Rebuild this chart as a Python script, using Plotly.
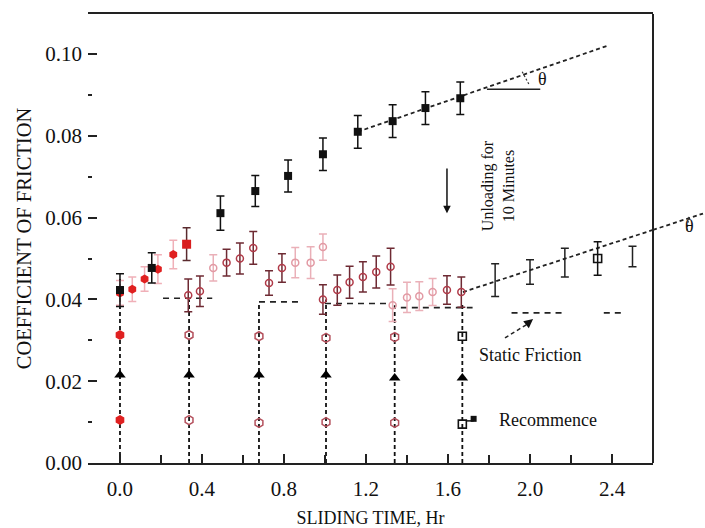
import plotly.graph_objects as go

FONT = "Liberation Serif, Times New Roman, serif"

# ---------------- data ----------------
X_RANGE = [-0.156, 2.6]
Y_RANGE = [0.0, 0.1098]

x_ticks = [0.0, 0.4, 0.8, 1.2, 1.6, 2.0, 2.4]
x_tick_labels = ["0.0", "0.4", "0.8", "1.2", "1.6", "2.0", "2.4"]
x_minor = [0.2, 0.6, 1.0, 1.4, 1.8, 2.2, 2.6]
y_ticks = [0.0, 0.02, 0.04, 0.06, 0.08, 0.10]
y_tick_labels = ["0.00", "0.02", "0.04", "0.06", "0.08", "0.10"]
y_minor = [0.01, 0.03, 0.05, 0.07, 0.09]

# first run, black filled squares
run1_x = [0.0, 0.155, 0.49, 0.66, 0.82, 0.99, 1.16, 1.33, 1.49, 1.66]
run1_y = [0.0423, 0.0477, 0.0611, 0.0665, 0.0702, 0.0755, 0.0810, 0.0836, 0.0868, 0.0892]
run1_err = [0.0040, 0.0037, 0.0042, 0.0038, 0.0039, 0.0040, 0.0040, 0.0040, 0.0040, 0.0040]

# red filled points at start
red_x = [0.0, 0.06, 0.12, 0.185, 0.26]
red_y = [0.0416, 0.0425, 0.0450, 0.0474, 0.0510]
red_err = [0.0030, 0.0030, 0.0030, 0.0035, 0.0035]
red_sq_x = [0.325]
red_sq_y = [0.0535]
red_sq_err = [0.0040]

# hollow points (dark)
hd_x = [0.333, 0.39, 0.52, 0.585, 0.65, 0.727, 0.79, 0.99, 1.06, 1.12, 1.185, 1.25, 1.32, 1.595, 1.665]
hd_y = [0.0410, 0.0420, 0.0490, 0.0500, 0.0526, 0.0440, 0.0477, 0.0400, 0.0423, 0.0442, 0.0455, 0.0467, 0.0480, 0.0423, 0.0418]
hd_err = [0.0040, 0.0037, 0.0033, 0.0038, 0.0040, 0.0030, 0.0035, 0.0036, 0.0037, 0.0039, 0.0037, 0.0039, 0.0045, 0.0035, 0.0037]
# hollow points (faint)
hf_x = [0.455, 0.855, 0.93, 0.99, 1.33, 1.40, 1.46, 1.525]
hf_y = [0.0477, 0.0490, 0.0490, 0.0528, 0.0386, 0.0405, 0.0408, 0.0418]
hf_err = [0.0032, 0.0037, 0.0039, 0.0032, 0.0040, 0.0037, 0.0035, 0.0033]

# column markers on the vertical dashed lines
vline_x = [0.0, 0.337, 0.678, 1.005, 1.34, 1.67]
vline_top = [0.045, 0.040, 0.039, 0.040, 0.0386, 0.039]
tri_y = [0.0215, 0.0215, 0.0215, 0.0215, 0.0208, 0.0208]
col_red_x = [0.0, 0.0]
col_red_y = [0.0313, 0.0105]
col_hollow_x = [0.337, 0.678, 1.005, 1.34, 0.337, 0.678, 1.005, 1.34]
col_hollow_y = [0.0313, 0.0310, 0.0306, 0.0308, 0.0105, 0.0098, 0.0100, 0.0098]
col_open_sq_x = [1.67, 1.67]
col_open_sq_y = [0.0310, 0.0095]

# second run (after recommencing)
run2_x = [1.83, 2.0, 2.17, 2.50]
run2_y = [0.0447, 0.0467, 0.0490, 0.0505]
run2_err = [0.0040, 0.0030, 0.0035, 0.0025]
run2_sq_x = [2.33]
run2_sq_y = [0.0500]
run2_sq_err = [0.0041]

# static friction dashed segments
sf_x0 = [0.21, 0.678, 1.00, 1.37, 1.91, 2.36]
sf_x1 = [0.45, 0.87, 1.32, 1.72, 2.16, 2.45]
sf_y = [0.0403, 0.0394, 0.0390, 0.0380, 0.0367, 0.0367]

# trend lines
fit1_x = [1.16, 2.376]
fit1_y = [0.0810, 0.1020]
fit2_x = [1.673, 2.60]
fit2_y = [0.0418, 0.0570]
fit2_ext_x = [2.60, 2.844]
fit2_ext_y = [0.0570, 0.0610]

DASH = "4px,3px"

fig = go.Figure()

# vertical dashed lines
vx, vy = [], []
for x, top in zip(vline_x, vline_top):
    vx += [x, x, None]
    vy += [0.0, top, None]
fig.add_trace(go.Scatter(x=vx, y=vy, mode="lines",
                         line=dict(color="#111", width=1.8, dash=DASH), hoverinfo="skip"))

# static friction lines
sx, sy = [], []
for a, b, y in zip(sf_x0, sf_x1, sf_y):
    sx += [a, b, None]
    sy += [y, y, None]
fig.add_trace(go.Scatter(x=sx, y=sy, mode="lines",
                         line=dict(color="#222", width=1.6, dash="6px,5px"), hoverinfo="skip"))

# trend lines
fig.add_trace(go.Scatter(x=fit1_x, y=fit1_y, mode="lines",
                         line=dict(color="#222", width=1.8, dash=DASH), hoverinfo="skip"))
fig.add_trace(go.Scatter(x=fit2_x, y=fit2_y, mode="lines",
                         line=dict(color="#222", width=1.8, dash=DASH), hoverinfo="skip"))

# faint hollow
fig.add_trace(go.Scatter(x=hf_x, y=hf_y, mode="markers",
                         marker=dict(symbol="circle-open", size=7, color="#e29aa4", line=dict(width=1.5)),
                         error_y=dict(type="data", array=hf_err, color="#eab0b8", thickness=1.5, width=4)))
# dark hollow
fig.add_trace(go.Scatter(x=hd_x, y=hd_y, mode="markers",
                         marker=dict(symbol="circle-open", size=7, color="#b03a48", line=dict(width=1.5)),
                         error_y=dict(type="data", array=hd_err, color="#6e2a33", thickness=1.5, width=4)))

# red early points
fig.add_trace(go.Scatter(x=red_x, y=red_y, mode="markers",
                         marker=dict(symbol="hexagon", size=9, color="#e02020"),
                         error_y=dict(type="data", array=red_err, color="#f0b0b8", thickness=1.5, width=4)))
fig.add_trace(go.Scatter(x=red_sq_x, y=red_sq_y, mode="markers",
                         marker=dict(symbol="square", size=9, color="#d81e1e"),
                         error_y=dict(type="data", array=red_sq_err, color="#5a2a2e", thickness=1.5, width=4)))

# black squares first run
fig.add_trace(go.Scatter(x=run1_x, y=run1_y, mode="markers",
                         marker=dict(symbol="square", size=8, color="#111"),
                         error_y=dict(type="data", array=run1_err, color="#111", thickness=1.5, width=4)))

# second run
fig.add_trace(go.Scatter(x=run2_x, y=run2_y, mode="markers",
                         marker=dict(symbol="square", size=2, color="rgba(0,0,0,0)"),
                         error_y=dict(type="data", array=run2_err, color="#222", thickness=1.5, width=4)))
fig.add_trace(go.Scatter(x=run2_sq_x, y=run2_sq_y, mode="markers",
                         marker=dict(symbol="square-open", size=8, color="#111", line=dict(width=1.6)),
                         error_y=dict(type="data", array=run2_sq_err, color="#111", thickness=1.5, width=4)))

# column markers
fig.add_trace(go.Scatter(x=vline_x, y=tri_y, mode="markers",
                         marker=dict(symbol="triangle-up", size=10, color="#000")))
fig.add_trace(go.Scatter(x=col_red_x, y=col_red_y, mode="markers",
                         marker=dict(symbol="hexagon", size=10, color="#e02020")))
fig.add_trace(go.Scatter(x=col_hollow_x, y=col_hollow_y, mode="markers",
                         marker=dict(symbol="hexagon-open", size=9, color="#b4505c", line=dict(width=1.5))))
fig.add_trace(go.Scatter(x=col_open_sq_x, y=col_open_sq_y, mode="markers",
                         marker=dict(symbol="square-open", size=8, color="#111", line=dict(width=1.6))))

# helper for paper coords
def px(x):
    return (x - X_RANGE[0]) / (X_RANGE[1] - X_RANGE[0])

def py(y):
    return (y - Y_RANGE[0]) / (Y_RANGE[1] - Y_RANGE[0])

shapes = [
    # right border
    dict(type="line", xref="paper", yref="paper", x0=1, x1=1, y0=0, y1=1,
         line=dict(color="#222", width=2)),
    # extension of second trend line outside the frame
    dict(type="line", xref="paper", yref="paper",
         x0=px(fit2_ext_x[0]), y0=py(fit2_ext_y[0]), x1=px(fit2_ext_x[1]), y1=py(fit2_ext_y[1]),
         line=dict(color="#222", width=1.8, dash=DASH)),
    # theta reference line (first)
    dict(type="line", xref="x", yref="y", x0=1.79, x1=2.05, y0=0.0914, y1=0.0914,
         line=dict(color="#222", width=1.5)),
    # theta arcs
    dict(type="line", xref="x", yref="y", x0=1.962, x1=1.995, y0=0.0957, y1=0.0926,
         line=dict(color="#333", width=1.2, dash="2px,2px")),
    dict(type="line", xref="paper", yref="paper", x0=px(2.775), x1=px(2.765), y0=py(0.0602), y1=py(0.0567),
         line=dict(color="#333", width=1.2, dash="2px,2px")),
    # static friction arrow tail (dashed)
    dict(type="line", xref="x", yref="y", x0=1.878, y0=0.0306, x1=1.985, y1=0.0339,
         line=dict(color="#222", width=1.5, dash="4px,3px")),
    # recommence pointer
    dict(type="line", xref="x", yref="y", x0=1.69, y0=0.0103, x1=1.725, y1=0.0103,
         line=dict(color="#111", width=1.5)),
]

annotations = [
    dict(x=1.844, y=0.0677, xref="x", yref="y", text="Unloading for<br>10 Minutes",
         textangle=-90, showarrow=False, font=dict(size=16, family=FONT, color="#111")),
    dict(x=2.0, y=0.0264, xref="x", yref="y", text="Static Friction",
         showarrow=False, font=dict(size=18, family=FONT, color="#111")),
    dict(x=2.088, y=0.0105, xref="x", yref="y", text="Recommence",
         showarrow=False, font=dict(size=18, family=FONT, color="#111")),
    dict(x=2.063, y=0.0938, xref="x", yref="y", text="θ",
         showarrow=False, font=dict(size=18, family=FONT, color="#111")),
    dict(x=px(2.812), y=py(0.0580), xref="paper", yref="paper", text="θ",
         showarrow=False, font=dict(size=18, family=FONT, color="#111")),
    # unloading arrow
    dict(x=1.595, y=0.0611, ax=1.595, ay=0.0724, xref="x", yref="y", axref="x", ayref="y",
         text="", showarrow=True, arrowhead=2, arrowsize=1, arrowwidth=1.5, arrowcolor="#111"),
    # static friction arrow head
    dict(x=2.015, y=0.0352, ax=1.975, ay=0.0336, xref="x", yref="y", axref="x", ayref="y",
         text="", showarrow=True, arrowhead=2, arrowsize=1.2, arrowwidth=1.5, arrowcolor="#111"),
]

fig.add_trace(go.Scatter(x=[1.725], y=[0.0108], mode="markers",
                         marker=dict(symbol="square", size=6, color="#111")))

fig.update_layout(
    width=705, height=528,
    margin=dict(l=88, r=52, t=14, b=65, autoexpand=False),
    plot_bgcolor="white", paper_bgcolor="white",
    showlegend=False,
    font=dict(family=FONT, size=21, color="#111"),
    shapes=shapes, annotations=annotations,
    xaxis=dict(range=X_RANGE, tickvals=x_ticks, ticktext=x_tick_labels,
               ticks="inside", ticklen=9, tickwidth=1.5, tickcolor="#222",
               showline=True, linewidth=2, linecolor="#222", mirror=True,
               showgrid=False, zeroline=False, ticklabelstandoff=6, automargin=False,
               minor=dict(tickvals=x_minor, ticks="inside", ticklen=8, tickwidth=1.5, tickcolor="#222"),
               title=dict(text="SLIDING TIME, Hr", font=dict(size=18, family=FONT), standoff=12),
               tickfont=dict(size=21, family=FONT)),
    yaxis=dict(range=Y_RANGE, tickvals=y_ticks, ticktext=y_tick_labels,
               ticks="inside", ticklen=9, tickwidth=1.5, tickcolor="#222",
               showline=False, showgrid=False, zeroline=False, ticklabelstandoff=5, automargin=False,
               minor=dict(tickvals=y_minor, ticks="inside", ticklen=4, tickwidth=1.5, tickcolor="#222"),
               title=dict(text="COEFFICIENT OF FRICTION", font=dict(size=20.5, family=FONT), standoff=8),
               tickfont=dict(size=21, family=FONT)),
)

fig.write_html("out.html")
